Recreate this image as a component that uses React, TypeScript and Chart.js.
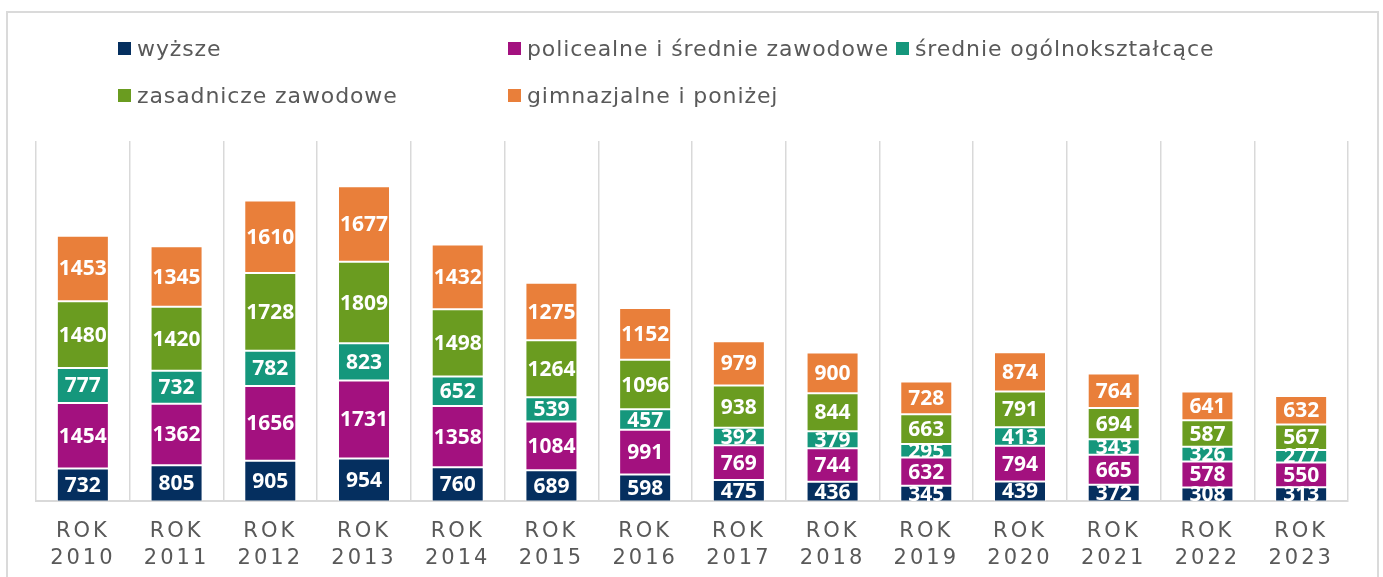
import React, { useEffect, useRef } from "react";
import { Chart, registerables } from "chart.js";

Chart.register(...registerables);

const categories: string[][] = [
  ["ROK", "2010"], ["ROK", "2011"], ["ROK", "2012"], ["ROK", "2013"], ["ROK", "2014"],
  ["ROK", "2015"], ["ROK", "2016"], ["ROK", "2017"], ["ROK", "2018"], ["ROK", "2019"],
  ["ROK", "2020"], ["ROK", "2021"], ["ROK", "2022"], ["ROK", "2023"],
];

const seriesNames = [
  "wyższe",
  "policealne i średnie zawodowe",
  "średnie ogólnokształcące",
  "zasadnicze zawodowe",
  "gimnazjalne i poniżej",
];

const wyzsze = [732, 805, 905, 954, 760, 689, 598, 475, 436, 345, 439, 372, 308, 313];
const policealne = [1454, 1362, 1656, 1731, 1358, 1084, 991, 769, 744, 632, 794, 665, 578, 550];
const ogolnoksztalcace = [777, 732, 782, 823, 652, 539, 457, 392, 379, 295, 413, 343, 326, 277];
const zasadnicze = [1480, 1420, 1728, 1809, 1498, 1264, 1096, 938, 844, 663, 791, 694, 587, 567];
const gimnazjalne = [1453, 1345, 1610, 1677, 1432, 1275, 1152, 979, 900, 728, 874, 764, 641, 632];

const colors = ["#052F5F", "#A3117F", "#15977C", "#6A9C20", "#E97F3A"];

const legendLayout = [
  { idx: 0, x: 118, y: 48 },
  { idx: 1, x: 508, y: 48 },
  { idx: 2, x: 896, y: 48 },
  { idx: 3, x: 118, y: 95 },
  { idx: 4, x: 508, y: 95 },
];

export default function App() {
  const ref = useRef<HTMLCanvasElement | null>(null);

  useEffect(() => {
    document.body.style.margin = "0";
    const canvas = ref.current;
    if (!canvas) return;
    const allData = [wyzsze, policealne, ogolnoksztalcace, zasadnicze, gimnazjalne];

    const spacingPlugin = {
      id: "spacing",
      beforeDraw(chart: any) {
        chart.ctx.letterSpacing = "3px";
      },
      beforeDatasetsDraw(chart: any) {
        chart.ctx.letterSpacing = "0px";
      },
      afterDraw(chart: any) {
        chart.ctx.letterSpacing = "0px";
      },
    };

    const labelPlugin = {
      id: "valueLabels",
      afterDatasetsDraw(chart: any) {
        const ctx = chart.ctx;
        ctx.save();
        ctx.letterSpacing = "0px";
        ctx.font = "bold 21px 'Open Sans'";
        ctx.fillStyle = "#ffffff";
        ctx.textAlign = "center";
        ctx.textBaseline = "middle";
        chart.data.datasets.forEach((ds: any, di: number) => {
          const meta = chart.getDatasetMeta(di);
          meta.data.forEach((el: any, i: number) => {
            const p = el.getProps(["x", "y", "base"], true);
            ctx.fillText(String(ds.data[i]), p.x, (p.y + p.base) / 2 + 1);
          });
        });
        ctx.restore();
      },
    };

    const chart = new Chart(canvas, {
      type: "bar",
      data: {
        labels: categories,
        datasets: allData.map((d, i) => ({
          label: seriesNames[i],
          data: d,
          backgroundColor: colors[i],
          borderColor: "rgba(255,255,255,0.35)",
          borderWidth: 1,
          borderSkipped: false,
          categoryPercentage: 1,
          barPercentage: 0.555,
        })),
      },
      options: {
        animation: false,
        responsive: false,
        layout: { padding: { left: 36, right: 35, top: 141, bottom: 0 } },
        plugins: { legend: { display: false }, tooltip: { enabled: false } },
        scales: {
          x: {
            stacked: true,
            grid: { display: true, color: "#d9d9d9", lineWidth: 1.5, drawTicks: false, offset: true },
            border: { display: true, color: "#d9d9d9", width: 2 },
            ticks: {
              color: "#595959",
              font: { family: "'DejaVu Sans'", size: 21, lineHeight: 1.3 },
              padding: 16,
              maxRotation: 0,
              autoSkip: false,
            },
          },
          y: {
            stacked: true,
            display: false,
            min: 0,
            max: 8000,
          },
        },
      },
      plugins: [spacingPlugin, labelPlugin],
    });
    return () => chart.destroy();
  }, []);

  return (
    <div style={{ position: "relative", width: 1383, height: 577, overflow: "hidden", background: "#fff" }}>
      <div
        style={{
          position: "absolute",
          left: 6,
          top: 11,
          width: 1369,
          height: 620,
          border: "2px solid #dadada",
        }}
      />
      <canvas ref={ref} width={1383} height={588} style={{ position: "absolute", left: 0, top: 0 }} />
      {legendLayout.map((l) => (
        <div
          key={l.idx}
          style={{
            position: "absolute",
            left: l.x,
            top: l.y - 14,
            height: 28,
            display: "flex",
            alignItems: "center",
            fontFamily: "'DejaVu Sans'",
            fontSize: 22,
            letterSpacing: "0.9px",
            color: "#595959",
            whiteSpace: "nowrap",
          }}
        >
          <span style={{ display: "inline-block", width: 13, height: 13, background: colors[l.idx], marginRight: 6 }} />
          <span>{seriesNames[l.idx]}</span>
        </div>
      ))}
    </div>
  );
}
